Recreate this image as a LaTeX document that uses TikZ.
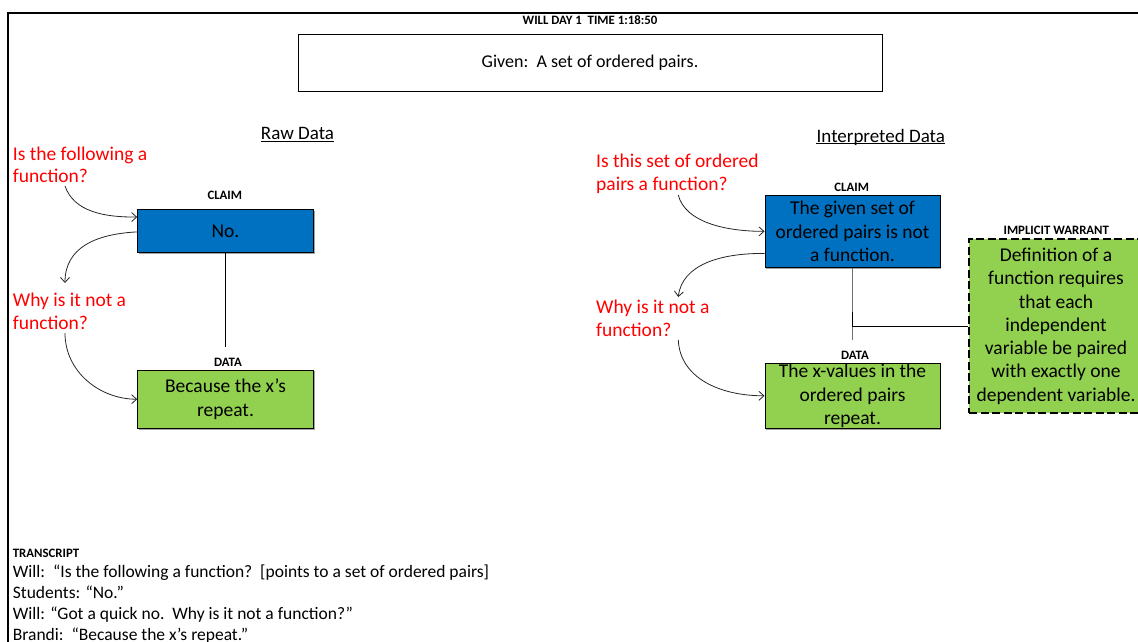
\documentclass[tikz,border=0pt]{standalone}
\usepackage{fontspec}
\setmainfont{Carlito}
\usetikzlibrary{arrows.meta,calc,shadows}
\definecolor{claimblue}{HTML}{0070C0}
\definecolor{datagreen}{HTML}{92D050}
\definecolor{askred}{HTML}{FF0000}
\definecolor{stemgray}{HTML}{707070}

\begin{document}
\begin{tikzpicture}[x=1pt,y=-1pt,
  every node/.style={inner sep=0pt},
  framed/.style={draw=black, line width=1pt, align=center,
    drop shadow={shadow xshift=1.2pt,shadow yshift=-1.2pt,fill=black!45,opacity=0.8}},
  bodyfont/.style={font=\fontsize{19.5}{23.3}\selectfont},
  claimbox/.style={framed, bodyfont, fill=claimblue},
  databox/.style={framed, bodyfont, fill=datagreen},
  warrantbox/.style={draw=black, line width=1.8pt, dash pattern=on 8pt off 3.5pt,
    fill=datagreen, bodyfont, align=center},
  tag/.style={font=\fontsize{12.8}{15}\selectfont\bfseries},
  heading/.style={font=\fontsize{19}{23}\selectfont},
  % multi-line nodes: the base anchor sits on the last line
  ask/.style={text=askred, align=left, anchor=base west, font=\fontsize{19.5}{22.7}\selectfont},
  prompt/.style={draw=black!85, line width=0.8pt, -{Straight Barb[length=5pt,width=9pt]}},
  stem/.style={draw=black, line width=0.9pt},
  linetext/.style={anchor=base west, font=\fontsize{17.5}{21}\selectfont, align=left}
]
\useasboundingbox (0,0) rectangle (1138,641);
\begin{scope}
\clip (0,0) rectangle (1138,641);

% page frame
\draw[line width=2pt] (1150,12.7) -- (8.3,12.7) -- (8.3,660);

% header
\node[tag, anchor=base] (title) at (590,24) {WILL DAY 1\ \ TIME 1:18:50};
\node[framed, fill=white, minimum width=584pt, minimum height=57pt,
      font=\fontsize{18}{22}\selectfont] (given) at (590,62.5) {Given:\ \ A set of ordered pairs.};

% column headings
\node[heading, anchor=base] (rawhead) at (297.5,139.3) {Raw Data};
\draw[line width=0.9pt] ([yshift=-2.3pt]rawhead.base west) -- ([yshift=-2.3pt]rawhead.base east);
\node[heading, anchor=base] (interphead) at (880.8,142.3) {Interpreted Data};
\draw[line width=0.9pt] ([yshift=-1.2pt]interphead.base west) -- ([yshift=-1.2pt]interphead.base east);

% ---- raw data argument ----
\node[ask] (askA1) at (12.7,182.7) {Is the following a\\function?};
\node[ask] (askA2) at (12.7,329.2) {Why is it not a\\function?};

\node[tag, anchor=base] (claimAtag) at (224.8,199.3) {CLAIM};
\node[claimbox, minimum width=175.6pt, minimum height=43.4pt] (claimA) at (225.5,231) {No.};
\node[tag, anchor=base] (dataAtag) at (228,366.7) {DATA};
\node[databox, minimum width=175.6pt, minimum height=58.3pt] (dataA) at (225.5,399.2)
  {Because the x’s\\[1.5pt]repeat.};

\draw[stem] (claimA.south) -- ($(claimA.south |- dataAtag.north)+(0,-11)$);

\coordinate (a1s) at (65,186);
\coordinate (a2e) at (65,283);
\coordinate (a3s) at (65,333);
\draw[prompt] (a1s) .. controls (74,212) and (105,217.3) .. ($(claimA.north west)!0.185!(claimA.south west)$);
\draw[prompt] ($(claimA.north west)!0.52!(claimA.south west)$) .. controls (95,234) and (65,248) .. (a2e);
\draw[prompt] (a3s) .. controls (65,372) and (100,399.2) .. (dataA.west);

% ---- interpreted data argument ----
\node[ask] (askB1) at (596,190) {Is this set of ordered\\pairs a function?};
\node[ask] (askB2) at (596,336) {Why is it not a\\function?};

\node[tag, anchor=base] (claimBtag) at (851.7,191.7) {CLAIM};
\node[claimbox, minimum width=175pt, minimum height=72.7pt] (claimB) at (852.5,231.35)
  {The given set of\\ordered pairs is not\\a function.};
\node[tag, anchor=base] (dataBtag) at (855,359) {DATA};
\node[databox, minimum width=175pt, minimum height=65pt] (dataB) at (852.5,395.8)
  {The x-values in the\\ordered pairs\\repeat.};

\node[tag, anchor=base] (warranttag) at (1056.3,234.3) {IMPLICIT WARRANT};
\node[warrantbox, minimum width=173.4pt, minimum height=174.3pt] (warrant) at (1056,326.15)
  {Definition of a\\function requires\\that each\\independent\\variable be paired\\with exactly one\\dependent variable.};

\draw[stem, draw=stemgray] (claimB.south) -- ($(claimB.south |- dataBtag.north)+(0,-11)$);
\coordinate (junction) at (claimB.south |- warrant.west);
\draw[stem] (warrant.west) -- (junction) -- ++(0,-14);

\coordinate (b1s) at (678.3,195);
\coordinate (b2e) at (678.3,297);
\coordinate (b3s) at (678.3,340);
\draw[prompt] (b1s) .. controls (685,222) and (725,231.35) .. (claimB.west);
\draw[prompt] ($(claimB.north west)!0.8!(claimB.south west)$) .. controls (720,253) and (682,265) .. (b2e);
\draw[prompt] (b3s) .. controls (680,378) and (720,395.8) .. (dataB.west);

% ---- transcript ----
\node[tag, anchor=base west] (transtag) at (12.7,557.5) {TRANSCRIPT};
\node[linetext] (transcript) at (12.7,640.5)
  {Will:\ \ “Is the following a function?\ \ [points to a set of ordered pairs]\\
   Students: “No.”\\
   Will: “Got a quick no.\ \ Why is it not a function?”\\
   Brandi:\ \ “Because the x’s repeat.”};
\end{scope}
\end{tikzpicture}
\end{document}
